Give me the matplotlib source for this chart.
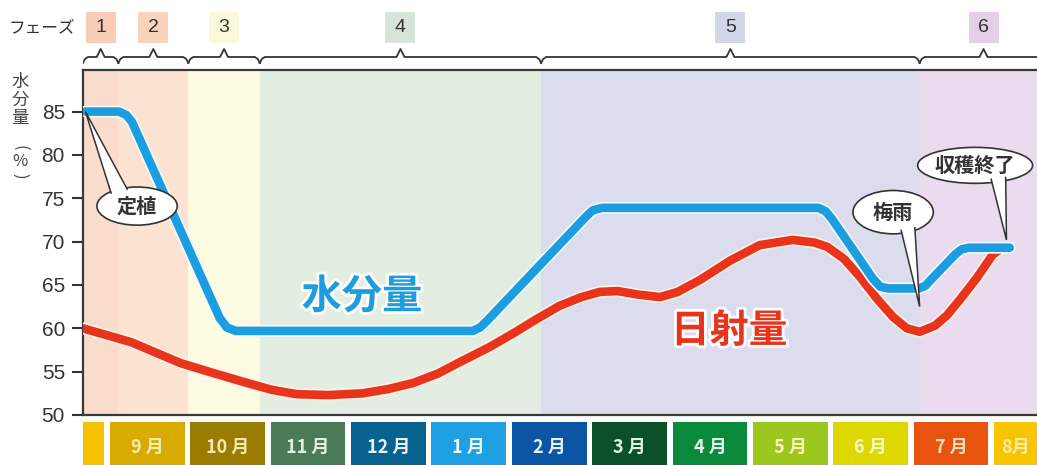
import matplotlib
matplotlib.use('Agg')
import matplotlib.pyplot as plt
import matplotlib.patheffects as pe
from matplotlib.patches import Ellipse, Polygon, Rectangle

plt.rcParams['font.family'] = ['Noto Sans CJK JP', 'DejaVu Sans']

# ---------------- data (x in months: 0 = start of September) ----------------
blue_x = [-0.27, 0.15, 0.24, 0.31, 1.40, 1.49, 1.60, 4.55, 4.64, 4.72, 5.95, 6.04, 6.16,
          8.85, 8.94, 9.02, 9.53, 9.62, 9.72, 10.10, 10.18, 10.25, 10.55, 10.63, 10.72, 11.23]
blue_y = [85.0, 85.0, 84.6, 83.8, 61.2, 60.1, 59.7, 59.7, 60.1, 60.8, 72.8, 73.6, 73.9,
          73.9, 73.5, 72.6, 65.7, 64.8, 64.6, 64.6, 64.9, 65.6, 68.5, 69.1, 69.3, 69.3]

red_x = [-0.30, 0.30, 0.91, 1.30, 1.74, 2.05, 2.36, 2.75, 3.18, 3.50, 3.81, 4.12, 4.43,
         4.75, 5.05, 5.35, 5.63, 5.90, 6.13, 6.35, 6.60, 6.88, 7.10, 7.38, 7.75, 8.12,
         8.53, 8.80, 8.96, 9.17, 9.37, 9.58, 9.78, 9.95, 10.11, 10.30, 10.45, 10.61,
         10.82, 11.02, 11.11]
red_y = [60.0, 58.4, 56.0, 54.9, 53.7, 52.9, 52.4, 52.3, 52.5, 53.0, 53.7, 54.8, 56.3,
         57.8, 59.4, 61.1, 62.6, 63.6, 64.2, 64.3, 63.9, 63.6, 64.2, 65.6, 67.8, 69.6,
         70.2, 69.9, 69.4, 68.0, 65.9, 63.4, 61.3, 60.0, 59.6, 60.3, 61.5, 63.3,
         65.8, 68.5, 69.1]

yticks = [50, 55, 60, 65, 70, 75, 80, 85]

month_labels = ['', '9 月', '10 月', '11 月', '12 月', '1 月', '2 月', '3 月',
                '4 月', '5 月', '6 月', '7 月', '8月']
month_colors = ['#f6c200', '#d8ab00', '#9a7c00', '#4b7a56', '#08628e', '#1ea0e2',
                '#0b55a5', '#0b5029', '#0b8a3c', '#9cc71e', '#ddd800', '#e8540e', '#f8c400']
month_text_colors = ['#ffffff', '#f7ecb0', '#f3e8b0', '#e2f0e2', '#e6f2f8', '#eef8ff',
                     '#e8f0fa', '#dff0e2', '#e6f6e6', '#f4f8b8', '#f8f6c8', '#f9dcc0', '#fbeaa8']

phase_labels = ['1', '2', '3', '4', '5', '6']
phase_bounds = [-0.30, 0.14, 1.01, 1.90, 5.40, 10.11, 11.70]
phase_bg = ['#f9dccc', '#fce3d2', '#fefbe3', '#e3ede2', '#dcdcef', '#eadbef']
phase_box = ['#f7cdb8', '#f9d3bb', '#fbf8dc', '#d8e4da', '#d3d5e8', '#e3cfe6']

# ---------------- layout ----------------
W, H = 1037, 465
PXM = 80.4            # pixels per month
XMIN, XMAX = -0.30, 11.57
L = 83 / W

fig = plt.figure(figsize=(W / 100, H / 100), dpi=100)

ax = fig.add_axes([L, (H - 415) / H, 1 - L, (415 - 70) / H])
ax.set_xlim(XMIN, XMAX)
ax.set_ylim(50, 89.8)
for i in range(len(phase_labels)):
    ax.axvspan(phase_bounds[i], phase_bounds[i + 1], color=phase_bg[i], lw=0, zorder=0)

for s in ['left', 'top', 'bottom']:
    ax.spines[s].set_color('#3a3a3a')
    ax.spines[s].set_linewidth(1.6)
ax.spines['right'].set_visible(False)
ax.set_xticks([])
ax.set_yticks(yticks)
ax.tick_params(axis='y', length=8, width=1.5, pad=5, labelsize=15,
               colors='#333333', labelcolor='#333333')
for lbl in ax.get_yticklabels():
    lbl.set_fontfamily('Liberation Sans')

ax.plot(red_x, red_y, color='#e8341c', lw=6.2, solid_capstyle='round',
        solid_joinstyle='round', zorder=3,
        path_effects=[pe.Stroke(linewidth=8.6, foreground='#fff3e6'), pe.Normal()])
ax.plot(blue_x, blue_y, color='#1b9ddf', lw=6.2, solid_capstyle='round',
        solid_joinstyle='round', zorder=4,
        path_effects=[pe.Stroke(linewidth=8.6, foreground='#f2fbff'), pe.Normal()])

ax.text(3.17, 63.6, '水分量', color='#1b9ddf', fontsize=29, fontweight='bold',
        ha='center', va='center', zorder=5,
        path_effects=[pe.withStroke(linewidth=4, foreground='white')])
ax.text(7.74, 59.7, '日射量', color='#e8341c', fontsize=28, fontweight='bold',
        ha='center', va='center', zorder=5,
        path_effects=[pe.withStroke(linewidth=4, foreground='white')])


def callout(cx, cy, w, h, b1, b2, tip, text, fs=14.5):
    ax.add_patch(Ellipse((cx, cy), w, h, facecolor='white', edgecolor='#333333',
                         lw=1.2, zorder=6))
    ax.add_patch(Polygon([b1, tip, b2], closed=True, facecolor='white',
                         edgecolor='none', zorder=7))
    ax.plot([b1[0], tip[0], b2[0]], [b1[1], tip[1], b2[1]], color='#333333',
            lw=1.1, zorder=8, solid_joinstyle='miter')
    ax.text(cx, cy, text, fontsize=fs, fontweight='bold', color='#333333',
            ha='center', va='center', zorder=9)


callout(0.373, 74.1, 1.0, 4.4, (0.05, 75.6), (0.25, 76.05), (-0.27, 85.0), '定植')
callout(9.78, 73.4, 1.0, 5.0, (9.88, 71.3), (10.05, 71.6), (10.11, 62.5), '梅雨')
callout(10.80, 78.8, 1.43, 4.15, (11.0, 77.2), (11.18, 77.4), (11.19, 70.2), '収穫終了')

# ---------------- month boxes ----------------
axm = fig.add_axes([L, 0, 1 - L, (465 - 422) / H])
axm.set_xlim(XMIN, XMAX)
axm.set_ylim(0, 1)
axm.axis('off')
for i, (lab, c, tc) in enumerate(zip(month_labels, month_colors, month_text_colors)):
    x0 = i - 1 + 0.035
    axm.bar(x0, 1, width=0.93, bottom=0, align='edge', color=c, lw=0)
    vl, vr = max(x0, XMIN), min(x0 + 0.93, XMAX)
    if lab and vr > vl:
        axm.text((vl + vr) / 2, 0.42, lab, color=tc, fontsize=13, fontweight='bold',
                 ha='center', va='center')

# ---------------- phase braces ----------------
axt = fig.add_axes([L, (H - 70) / H, 1 - L, 70 / H])
axt.set_xlim(XMIN, XMAX)
axt.set_ylim(70, 0)
axt.axis('off')
k = 1 / PXM
for i, lab in enumerate(phase_labels):
    a, b = phase_bounds[i], phase_bounds[i + 1]
    c = (a + b) / 2
    xs = [a, a + 2 * k, a + 5 * k, c - 4 * k, c, c + 4 * k, b - 5 * k, b - 2 * k, b]
    ys = [63, 59, 57, 57, 49, 57, 57, 59, 63]
    axt.plot(xs, ys, color='#333333', lw=1.3, solid_joinstyle='round')
    axt.add_patch(Rectangle((c - 15 * k, 12), 30 * k, 31, facecolor=phase_box[i],
                            edgecolor='none'))
    axt.text(c, 28, lab, fontsize=14, color='#333333', ha='center', va='center',
             fontfamily='Liberation Sans')

fig.text(42 / W, 1 - 28 / H, 'フェーズ', ha='center', va='center', fontsize=12,
         color='#333333')

# y label (vertical)
fig.text(20 / W, 1 - 100 / H, '水\n分\n量', ha='center', va='center', fontsize=12.5,
         color='#444444', linespacing=1.0)
fig.text(20 / W, 1 - 148 / H, '(', rotation=-90, ha='center', va='center', fontsize=12,
         color='#444444')
fig.text(20 / W, 1 - 162 / H, '%', ha='center', va='center', fontsize=12,
         color='#444444')
fig.text(20 / W, 1 - 176 / H, ')', rotation=-90, ha='center', va='center', fontsize=12,
         color='#444444')

fig.savefig('out.png', dpi=100)
